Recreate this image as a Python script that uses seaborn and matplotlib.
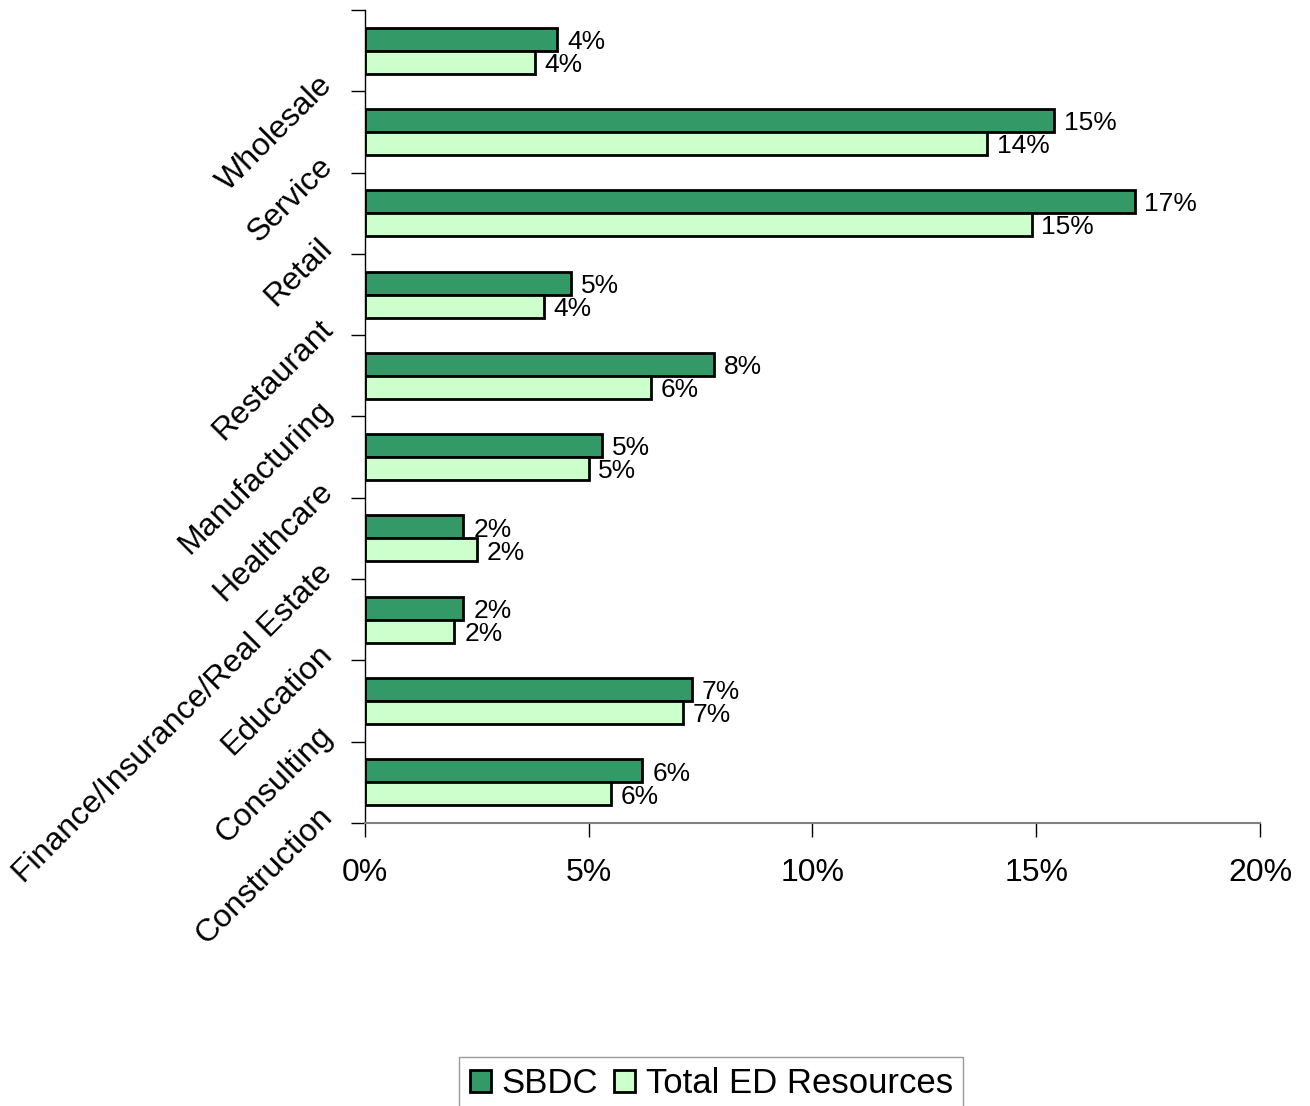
import numpy as np
import pandas as pd
import matplotlib
matplotlib.use("Agg")
import matplotlib.pyplot as plt
import seaborn as sns
from matplotlib.ticker import FuncFormatter

# Share of clients by industry (percent)
industries = ["Wholesale", "Service", "Retail", "Restaurant", "Manufacturing",
              "Healthcare", "Finance/Insurance/Real Estate", "Education",
              "Consulting", "Construction"]
sbdc = [4.3, 15.4, 17.2, 4.6, 7.8, 5.3, 2.2, 2.2, 7.3, 6.2]
total_ed = [3.8, 13.9, 14.9, 4.0, 6.4, 5.0, 2.5, 2.0, 7.1, 5.5]
series_names = ["SBDC", "Total ED Resources"]
x_ticks = [0, 5, 10, 15, 20]

sns.set_theme(style="white")
plt.rcParams["font.family"] = ["Liberation Sans", "DejaVu Sans"]
plt.rcParams.update({"text.color": "black", "xtick.color": "black",
                     "ytick.color": "black", "axes.labelcolor": "black"})

df = pd.DataFrame({
    "Industry": industries * 2,
    "Share": sbdc + total_ed,
    "Series": [series_names[0]] * len(industries) + [series_names[1]] * len(industries),
})

fig = plt.figure(figsize=(13.1, 11.06), dpi=100)
ax = fig.add_axes([0.2786, 0.2559, 0.6832, 0.7351])

sns.barplot(data=df, y="Industry", x="Share", hue="Series",
            order=industries, hue_order=series_names,
            palette=["#339966", "#CCFFCC"], orient="h", width=0.566,
            edgecolor="black", linewidth=2.0, saturation=1, legend=False, ax=ax)

# value labels at the end of each bar
for container, values in zip(ax.containers, [sbdc, total_ed]):
    texts = ax.bar_label(container, labels=[f"{round(v)}%" for v in values],
                         padding=7, fontsize=19, color="black")
    for t in texts:
        t.xyann = (7, -2)

# axes styling
ax.set_xlim(0, 20)
ax.set_xticks(x_ticks)
ax.xaxis.set_major_formatter(FuncFormatter(lambda x, _: f"{x:.0f}%"))
ax.set_xlabel("")
ax.set_ylabel("")
ax.set_ylim(len(industries) - 0.5, -0.5)
ax.set_yticks(np.arange(-0.5, len(industries)), labels=[""] + industries)
for lab in ax.get_yticklabels():
    lab.set_rotation(45)
    lab.set_ha("right")
    lab.set_va("bottom")
    lab.set_rotation_mode("anchor")

ax.tick_params(axis="y", left=True, length=10, width=1, color="black",
               labelcolor="black", direction="out", labelsize=23, pad=9)
ax.tick_params(axis="x", bottom=True, length=10, width=1, color="black",
               labelcolor="black", direction="out", labelsize=23, pad=15)
for side in ("top", "right"):
    ax.spines[side].set_visible(False)
ax.spines["left"].set_color("black")
ax.spines["left"].set_linewidth(1)
ax.spines["bottom"].set_color("#808080")
ax.spines["bottom"].set_linewidth(1.5)
ax.grid(False)

fig.legend(ax.containers, series_names, loc="upper center",
           bbox_to_anchor=(0.543, 1 - 1057 / 1106), ncol=2, frameon=True,
           fancybox=False, edgecolor="#808080", fontsize=25,
           handlelength=0.62, handleheight=0.62, handletextpad=0.3,
           columnspacing=0.45, borderpad=0.3, borderaxespad=0)

fig.savefig("out.png", dpi=100)
